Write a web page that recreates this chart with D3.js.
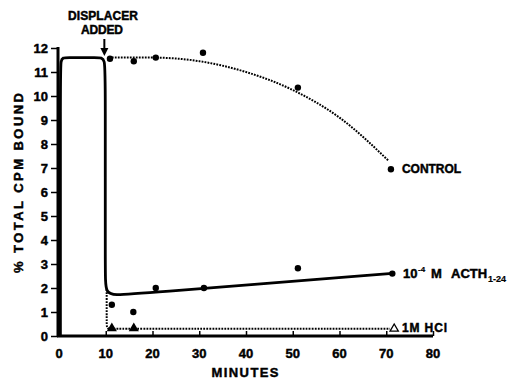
<!DOCTYPE html>
<html>
<head>
<meta charset="utf-8">
<script src="https://cdn.jsdelivr.net/npm/d3@7"></script>
<style>
body { margin: 0; background: white; }
text { font-family: "Liberation Sans", Arial, sans-serif; font-weight: bold; fill: black; stroke: black; stroke-width: 0.45px; }
</style>
</head>
<body>
<script>
// data (minutes, % total cpm bound)
var controlPts = [[10.9, 11.55], [16, 11.45], [20.7, 11.6], [30.8, 11.8], [51.1, 10.35], [71, 6.95]]
var controlFit = [[11.3, 11.6], [20, 11.6], [30, 11.45], [40, 11.0], [50, 10.25], [60, 9.1], [70.5, 7.3]]
var acthPts = [[11.3, 1.3], [15.9, 1.0], [20.7, 2.0], [31, 2.0], [51.1, 2.82], [71.3, 2.6]]
var acthFit = [[0.3, 0], [0.3, 10.5], [0.3, 11.6], [1.2, 11.6], [8.5, 11.6], [9.9, 11.6], [9.9, 10.5], [9.9, 2.6], [9.9, 1.75], [12.5, 1.72], [14.5, 1.72], [71.3, 2.61]]
var hclPts = [[11.3, 0.32], [16, 0.32]]
var hclOpen = [[71.7, 0.3]]
var hclFit = [[10.2, 1.95], [10.2, 0.6], [10.2, 0.3], [11, 0.3], [16, 0.3], [70.8, 0.3]]
var xTicks = [0, 10, 20, 30, 40, 50, 60, 70, 80]
var yTicks = [0, 1, 2, 3, 4, 5, 6, 7, 8, 9, 10, 11, 12]

var svg = d3.select('body').append('svg')
	.attr('width', 510)
	.attr('height', 381)

var x = d3.scaleLinear().domain([0, 80]).range([59, 433])
var y = d3.scaleLinear().domain([0, 12]).range([336, 48])

//axes
var xAxis = svg.append('g')
	.attr('transform', 'translate(0,336)')
	.call(d3.axisTop(x).tickValues(xTicks).tickSize(5).tickFormat(''))
xAxis.select('.domain').attr('stroke-width', 3).attr('d', 'M57,0H433')
xAxis.selectAll('line').attr('stroke-width', 1.5)

var yAxis = svg.append('g')
	.attr('transform', 'translate(58,0)')
	.call(d3.axisLeft(y).tickValues(yTicks).tickSize(7).tickFormat(''))
yAxis.select('.domain').attr('stroke-width', 3).attr('d', 'M0,47V337')
yAxis.selectAll('line').attr('stroke-width', 1.5)

// tick labels
svg.selectAll('.xlab').data(xTicks).enter().append('text')
	.attr('x', function(d){ return x(d) })
	.attr('y', 358)
	.attr('text-anchor', 'middle')
	.style('font-size', '13px')
	.text(function(d){ return d })

svg.selectAll('.ylab').data(yTicks).enter().append('text')
	.attr('x', 48)
	.attr('y', function(d){ return y(d) + 5 })
	.attr('text-anchor', 'end')
	.style('font-size', '13px')
	.text(function(d){ return d })

// axis titles
svg.append('text')
	.attr('x', 245).attr('y', 377)
	.attr('text-anchor', 'middle')
	.attr('textLength', 67)
	.style('font-size', '13px')
	.text('MINUTES')

svg.append('text')
	.attr('transform', 'translate(23,183) rotate(-90)')
	.attr('text-anchor', 'middle')
	.attr('textLength', 180)
	.style('font-size', '13px')
	.text('% TOTAL CPM BOUND')

// lines
var line = d3.line()
	.x(function(d){ return x(d[0]) })
	.y(function(d){ return y(d[1]) })

svg.append('path')
	.attr('d', line.curve(d3.curveMonotoneX)(controlFit))
	.attr('fill', 'none').attr('stroke', 'black')
	.attr('stroke-width', 2).attr('stroke-dasharray', '1.8,1.2')

svg.append('path')
	.attr('d', line.curve(d3.curveBasis)(hclFit))
	.attr('fill', 'none').attr('stroke', 'black')
	.attr('stroke-width', 2).attr('stroke-dasharray', '1.8,1.2')

svg.append('path')
	.attr('d', line.curve(d3.curveBasis)(acthFit))
	.attr('fill', 'none').attr('stroke', 'black')
	.attr('stroke-width', 2.8)

// markers
svg.selectAll('.dot').data(controlPts.concat(acthPts)).enter().append('circle')
	.attr('cx', function(d){ return x(d[0]) })
	.attr('cy', function(d){ return y(d[1]) })
	.attr('r', 3.2)
	.style('fill', 'black')

var tri = d3.symbol().type(d3.symbolTriangle).size(45)
svg.selectAll('.tri').data(hclPts).enter().append('path')
	.attr('d', tri)
	.attr('transform', function(d){ return 'translate(' + x(d[0]) + ',' + y(d[1]) + ')' })
	.style('fill', 'black')
svg.selectAll('.otri').data(hclOpen).enter().append('path')
	.attr('d', d3.symbol().type(d3.symbolTriangle).size(30))
	.attr('transform', function(d){ return 'translate(' + x(d[0]) + ',' + y(d[1]) + ')' })
	.style('fill', 'white').attr('stroke', 'black').attr('stroke-width', 1.3)

// series labels
svg.append('text').attr('x', 402).attr('y', 173)
	.attr('textLength', 59).style('font-size', '12px').text('CONTROL')

var acth = svg.append('g').style('font-size', '13px')
acth.append('text').attr('x', 403).attr('y', 278).text('10')
acth.append('text').attr('x', 418).attr('y', 272).style('font-size', '8px').style('stroke-width', '0.2px').text('-4')
acth.append('text').attr('x', 431).attr('y', 278).text('M')
acth.append('text').attr('x', 451).attr('y', 278).text('ACTH')
acth.append('text').attr('x', 488).attr('y', 282).style('font-size', '9px').style('stroke-width', '0.2px').text('1-24')

svg.append('text').attr('x', 402).attr('y', 332)
	.attr('textLength', 45).style('font-size', '12px').text('1M HCl')

// displacer annotation
svg.append('text').attr('x', 103).attr('y', 20)
	.attr('text-anchor', 'middle').attr('textLength', 70)
	.style('font-size', '12px').text('DISPLACER')
svg.append('text').attr('x', 102).attr('y', 34)
	.attr('text-anchor', 'middle').attr('textLength', 42)
	.style('font-size', '12px').text('ADDED')
svg.append('line')
	.attr('x1', x(9.7)).attr('y1', 39).attr('x2', x(9.7)).attr('y2', 52)
	.attr('stroke', 'black').attr('stroke-width', 2)
svg.append('path')
	.attr('d', 'M' + (x(9.7) - 4) + ',48L' + x(9.7) + ',56L' + (x(9.7) + 4) + ',48Z')
	.style('fill', 'black')
</script>
</body>
</html>
